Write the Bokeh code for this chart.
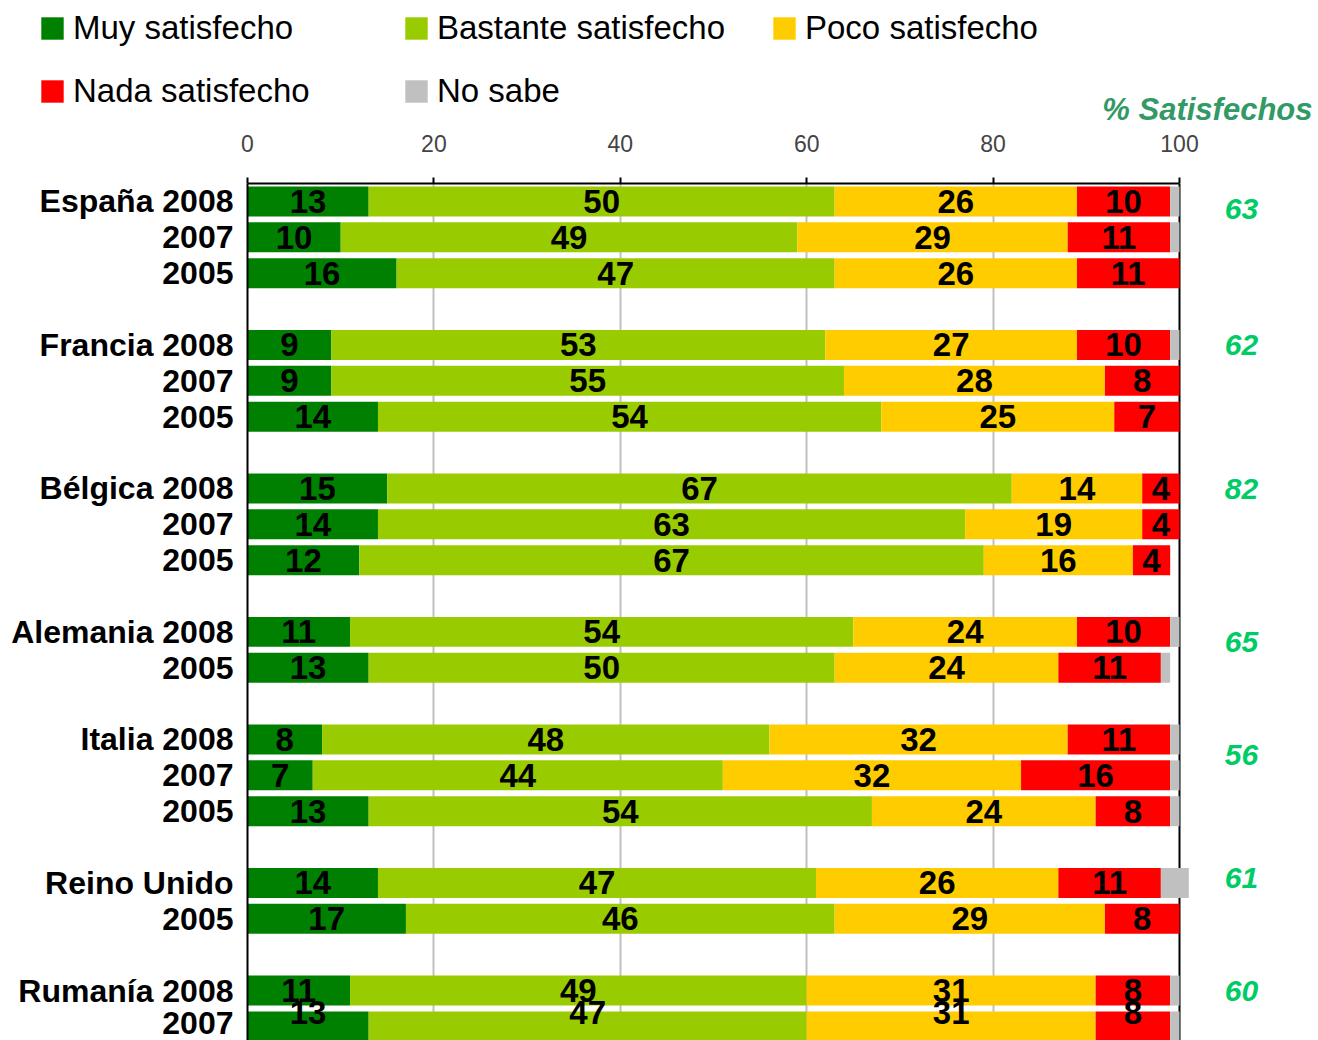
from bokeh.plotting import figure
from bokeh.models import (ColumnDataSource, Range1d, FixedTicker, Grid, Legend,
                          LegendItem, Label)
from bokeh.core.properties import value
from bokeh.embed import file_html
from bokeh.resources import INLINE

# ---------------- data ----------------
row_labels = ["España 2008", "2007", "2005",
              "Francia 2008", "2007", "2005",
              "Bélgica 2008", "2007", "2005",
              "Alemania 2008", "2005",
              "Italia 2008", "2007", "2005",
              "Reino Unido", "2005",
              "Rumanía 2008", "2007"]
group_sizes = [3, 3, 3, 2, 3, 2, 2]
muy = [13, 10, 16, 9, 9, 14, 15, 14, 12, 11, 13, 8, 7, 13, 14, 17, 11, 13]
bastante = [50, 49, 47, 53, 55, 54, 67, 63, 67, 54, 50, 48, 44, 54, 47, 46, 49, 47]
poco = [26, 29, 26, 27, 28, 25, 14, 19, 16, 24, 24, 32, 32, 24, 26, 29, 31, 31]
nada = [10, 11, 11, 10, 8, 7, 4, 4, 4, 10, 11, 11, 16, 8, 11, 8, 8, 8]
no_sabe = [1, 1, 0, 1, 0, 0, 0, 0, 0, 1, 1, 1, 1, 1, 3, 0, 1, 1]
satisfechos = [63, 62, 82, 65, 56, 61, 60]
series_names = ["Muy satisfecho", "Bastante satisfecho", "Poco satisfecho",
                "Nada satisfecho", "No sabe"]
x_ticks = [0, 20, 40, 60, 80, 100]

# ---------------- layout helpers ----------------
colors = ["#008000", "#99CC00", "#FFCC00", "#FF0000", "#C0C0C0"]
FONT = "Liberation Sans"

slots = []
group_start = []
s = 0
for g in group_sizes:
    group_start.append(s)
    for i in range(g):
        slots.append(s + i)
    s += g + 1

sat_offset = [0.22, 0.0, 0.03, 0.29, 0.42, -0.13, 0.0]
sat_y = [group_start[i] + sat_offset[i] for i in range(len(satisfechos))]

label_shift = [0.0] * len(slots)
label_shift[-1] = -0.39

src = ColumnDataSource(dict(y=slots, muy=muy, bastante=bastante, poco=poco,
                            nada=nada, no_sabe=no_sabe))

# ---------------- header figure (legend + column title) ----------------
HEAD_H = 128
head = figure(width=1318, height=HEAD_H, x_range=Range1d(0, 1318),
              y_range=Range1d(HEAD_H, 0), output_backend="svg",
              toolbar_location=None, min_border=0)
head.axis.visible = False
head.grid.visible = False
head.outline_line_color = None

dummy = []
for c in colors:
    # legend swatch renderers; their single point lies outside the visible range
    dummy.append(head.rect(x=[-500], y=[-500], width=1, height=1, fill_color=c,
                           line_color=None))

leg_pos = [(38, 81), (402, 81), (770, 81), (38, 18), (402, 18)]
for name, r, loc in zip(series_names, dummy, leg_pos):
    lg = Legend(items=[LegendItem(label=name, renderers=[r])], location=loc,
                glyph_width=28, glyph_height=28, label_standoff=7,
                label_text_font=FONT, label_text_font_size="33px",
                label_text_color="black",
                padding=0, margin=0, border_line_color=None,
                background_fill_alpha=0)
    head.add_layout(lg)

head.add_layout(Label(x=1312, y=109, text="% Satisfechos", text_align="right",
                      text_baseline="middle", text_font=FONT,
                      text_font_style="bold italic", text_font_size="31px",
                      text_color="#339966"))

# ---------------- main chart ----------------
FRAME_W, FRAME_H = 1069, 857
LEFT, TOP = 247, 55
x_end = 114.7
px_per_row = 35.87
y_top = -0.5
y_bottom = y_top + FRAME_H / px_per_row

p = figure(width=LEFT + FRAME_W, height=TOP + FRAME_H,
           x_range=Range1d(0, x_end), y_range=Range1d(y_bottom, y_top),
           x_axis_location="above", output_backend="svg",
           toolbar_location=None, min_border_left=LEFT, min_border_top=TOP,
           min_border_right=0, min_border_bottom=0)
p.outline_line_color = None

renderers = p.hbar_stack(["muy", "bastante", "poco", "nada", "no_sabe"], y="y",
                         height=0.836, color=colors, line_color=None, source=src)

lx, ly, lt = [], [], []
for i, yv in enumerate(slots):
    left = 0
    for vals in (muy, bastante, poco, nada):
        v = vals[i]
        if v > 0:
            lx.append(left + v / 2)
            ly.append(yv + label_shift[i])
            lt.append(str(v))
        left += v
p.text(x=lx, y=ly, text=lt, text_align="center", text_baseline="middle",
       text_font=value(FONT), text_font_style="bold", text_font_size="33px",
       text_color="black")

p.text(x=[106.65] * len(satisfechos), y=sat_y, text=[str(v) for v in satisfechos],
       text_align="center", text_baseline="middle", text_font=value(FONT),
       text_font_style="bold italic", text_font_size="30px", text_color="#00CC66")

xa = p.xaxis[0]
xa.ticker = FixedTicker(ticks=x_ticks)
xa.bounds = (0, 100)
xa.axis_line_width = 2
xa.axis_line_color = "black"
xa.major_tick_out = 6
xa.major_tick_in = 0
xa.major_tick_line_width = 2
xa.minor_tick_line_color = None
xa.major_label_text_font = FONT
xa.major_label_text_font_size = "23px"
xa.major_label_standoff = 26

ya = p.yaxis[0]
ya.ticker = FixedTicker(ticks=slots)
ya.major_label_overrides = {sl: lab for sl, lab in zip(slots, row_labels)}
ya.axis_line_width = 2
ya.axis_line_color = "black"
ya.major_tick_out = 0
ya.major_tick_in = 0
ya.minor_tick_line_color = None
ya.major_label_text_font = FONT
ya.major_label_text_font_style = "bold"
ya.major_label_text_font_size = "32px"
ya.major_label_text_color = "black"
ya.major_label_standoff = 14

p.ygrid.visible = False
p.xgrid.ticker = FixedTicker(ticks=[20, 40, 60, 80])
p.xgrid.grid_line_color = "#C0C0C0"
p.xgrid.grid_line_width = 2
p.add_layout(Grid(dimension=0, ticker=FixedTicker(ticks=[100]),
                  grid_line_color="black", grid_line_width=2))

open("out.html", "w").write(file_html([head, p], INLINE))
